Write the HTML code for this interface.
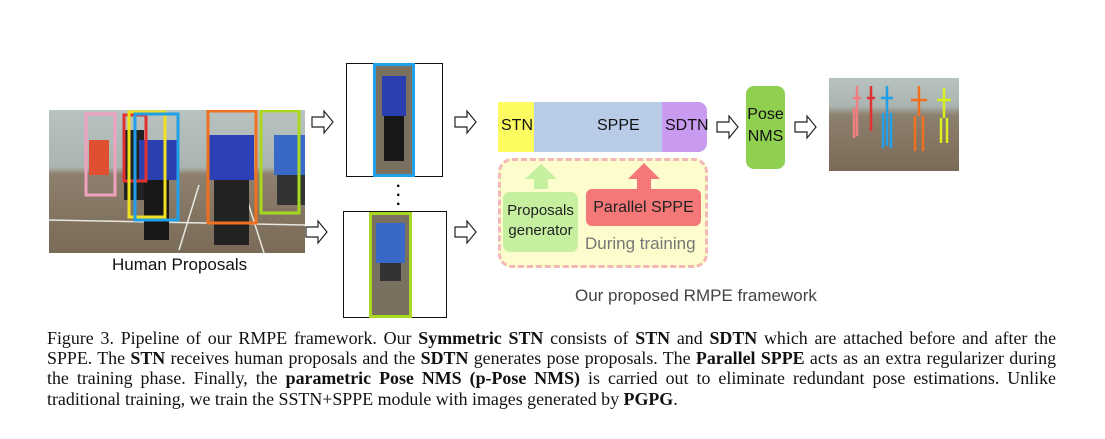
<!DOCTYPE html>
<html><head><meta charset="utf-8"><style>
body{margin:0;width:1105px;height:439px;background:#fff;position:relative;overflow:hidden;font-family:"Liberation Sans","DejaVu Sans",sans-serif}
.a{position:absolute}
.cap{position:absolute;left:47px;width:1009px;font-family:"Liberation Serif",serif;font-size:17.9px;color:#111;white-space:nowrap;text-align:justify;text-align-last:justify;line-height:20px}
.cap b{font-weight:bold}
.arr{position:absolute}
</style></head><body>
<div class="a" style="left:49px;top:110px;width:256px;height:143px;background:linear-gradient(#b8c2c0 0%,#aab4b0 40%,#8e806e 45%,#7a6a58 100%)"></div>
<div class="a" style="left:49px;top:110px;width:256px;height:143px">
 <svg width="256" height="143"><g fill="none" stroke="#e8e8e0" stroke-width="1.5"><line x1="0" y1="110" x2="256" y2="115"/><line x1="130" y1="140" x2="150" y2="75"/><line x1="215" y1="143" x2="195" y2="80"/></g>
 <rect x="75" y="20" width="20" height="70" fill="#222"/><rect x="90" y="30" width="40" height="40" fill="#2a3fb0"/><rect x="95" y="70" width="25" height="60" fill="#181818"/>
 <rect x="160" y="25" width="45" height="45" fill="#2e40b5"/><rect x="165" y="70" width="35" height="65" fill="#222"/>
 <rect x="225" y="25" width="35" height="40" fill="#3a68c8"/><rect x="228" y="65" width="28" height="30" fill="#333"/>
 <rect x="40" y="30" width="20" height="35" fill="#e05030"/>
 <g fill="none" stroke-width="3"><rect x="37" y="4" width="29" height="81" stroke="#f0a0c0"/><rect x="75" y="5" width="22" height="66" stroke="#e03030"/><rect x="80" y="2" width="36" height="105" stroke="#f0e020"/><rect x="86" y="4" width="43" height="106" stroke="#20a0e8"/><rect x="159" y="1" width="48" height="112" stroke="#f07020"/><rect x="212" y="1" width="38" height="102" stroke="#a8d820"/></g></svg>
</div>
<div class="a" style="left:112px;top:255px;font-size:17px;color:#111">Human Proposals</div>
<div class="a" style="left:346px;top:63px;width:97px;height:114px;border:1px solid #111;box-sizing:border-box"></div>
<div class="a" style="left:373px;top:63px;width:42px;height:114px;background:#7a7060;border:3px solid #20a0e8;box-sizing:border-box"><div style="margin:10px 6px 0;height:40px;background:#2a3fb0"></div><div style="margin:0 8px;height:45px;background:#181818"></div></div>
<div class="a" style="left:343px;top:211px;width:104px;height:107px;border:1px solid #111;box-sizing:border-box"></div>
<div class="a" style="left:369px;top:212px;width:43px;height:106px;background:#7a7060;border:3px solid #a8d820;box-sizing:border-box"><div style="margin:8px 4px 0;height:40px;background:#3a68c8"></div><div style="margin:0 8px;height:18px;background:#333"></div></div>
<div class="a" style="left:396px;top:182px;font-size:16px;line-height:9px;font-weight:bold">·<br>·<br>·</div>
<svg class="arr" style="left:0;top:0" width="1105" height="439"><g fill="#fff" stroke="#222" stroke-width="1.2">
<path d="M312,117h12v-6l9,11l-9,11v-6h-12z"/>
<path d="M306,227h12v-6l9,11l-9,11v-6h-12z"/>
<path d="M455,117h12v-6l9,11l-9,11v-6h-12z"/>
<path d="M455,227h12v-6l9,11l-9,11v-6h-12z"/>
<path d="M717,122h12v-6l9,11l-9,11v-6h-12z"/>
<path d="M795,122h12v-6l9,11l-9,11v-6h-12z"/>
</g></svg>
<div class="a" style="left:498px;top:102px;width:209px;height:50px;background:#b8cce8;border-radius:0 9px 9px 0;overflow:hidden">
<div class="a" style="left:0;top:0;width:36px;height:50px;background:#fcfc60"></div>
<div class="a" style="right:0;top:0;width:45px;height:50px;background:#c89af0"></div></div>
<div class="a" style="left:501px;top:117px;font-size:16px;color:#111">STN</div>
<div class="a" style="left:597px;top:117px;font-size:16px;color:#111">SPPE</div>
<div class="a" style="left:665px;top:117px;font-size:16px;color:#111">SDTN</div>
<div class="a" style="left:498px;top:158px;width:210px;height:110px;background:#fcfccc;border:3px dashed #f4b8b8;border-radius:14px;box-sizing:border-box"></div>
<svg class="arr" style="left:0;top:0" width="1105" height="439"><path d="M534,189v-10h-9l16,-15l16,15h-9v10z" fill="#c4f0a0"/><path d="M637,189v-10h-9l16,-16l16,16h-9v10z" fill="#f47878"/></svg>
<div class="a" style="left:503px;top:192px;width:75px;height:60px;background:#c6f0a0;border-radius:7px;font-size:15px;color:#222;text-align:center;line-height:20px;padding-top:9px;box-sizing:border-box">Proposals<br>generator</div>
<div class="a" style="left:586px;top:189px;width:115px;height:37px;background:#f47878;border-radius:6px;font-size:16px;color:#222;text-align:center;line-height:37px">Parallel SPPE</div>
<div class="a" style="left:585px;top:234px;font-size:17px;color:#777">During training</div>
<div class="a" style="left:746px;top:86px;width:39px;height:83px;background:#8fd050;border-radius:8px;font-size:16px;color:#111;text-align:center;line-height:22px;padding-top:18px;box-sizing:border-box">Pose<br>NMS</div>
<div class="a" style="left:829px;top:78px;width:130px;height:93px;background:linear-gradient(#b8c2c0 0%,#aab4b0 30%,#8e806e 40%,#7a6a58 100%)">
<svg width="130" height="93"><g fill="none" stroke-width="2.5"><path d="M28,8v50M24,20h8M25,30v30" stroke="#f08080"/><path d="M42,8v45M38,20h8" stroke="#e03030"/><path d="M58,8v60M52,20h12M54,35v35M62,35v35" stroke="#20a0e8"/><path d="M90,8v30M82,22h16M86,38v35M94,38v35" stroke="#f07020"/><path d="M115,10v30M108,22h14M112,40v25M118,40v25" stroke="#d8f020"/></g></svg></div>
<div class="a" style="left:575px;top:286px;font-size:17px;color:#444">Our proposed RMPE framework</div>
<div class="cap" style="top:328px">Figure 3. Pipeline of our RMPE framework. Our <b>Symmetric STN</b> consists of <b>STN</b> and <b>SDTN</b> which are attached before and after the</div>
<div class="cap" style="top:348px">SPPE. The <b>STN</b> receives human proposals and the <b>SDTN</b> generates pose proposals. The <b>Parallel SPPE</b> acts as an extra regularizer during</div>
<div class="cap" style="top:368px">the training phase. Finally, the <b>parametric Pose NMS (p-Pose NMS)</b> is carried out to eliminate redundant pose estimations. Unlike</div>
<div class="cap" style="top:389px;text-align-last:left">traditional training, we train the SSTN+SPPE module with images generated by <b>PGPG</b>.</div>
</body></html>
